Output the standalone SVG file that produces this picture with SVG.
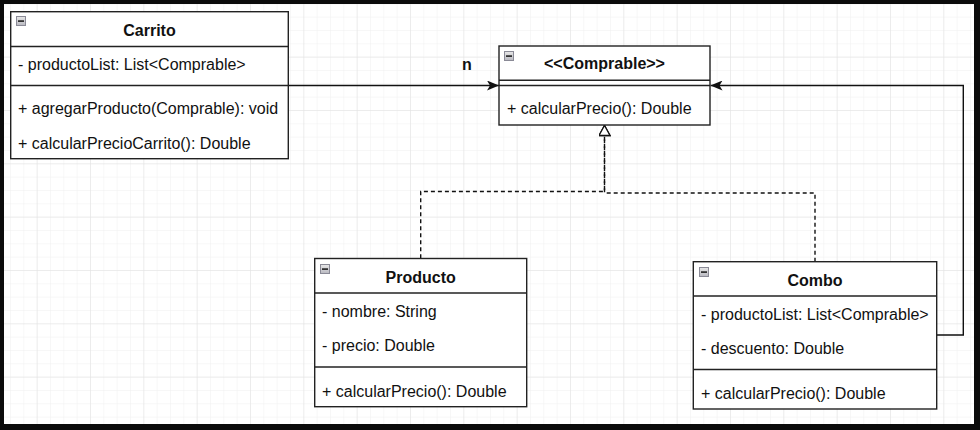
<svg xmlns="http://www.w3.org/2000/svg" width="980" height="430" viewBox="0 0 980 430">
<defs>
<pattern id="minor" x="10" y="3.33" width="13.333" height="13.333" patternUnits="userSpaceOnUse">
<path d="M0 0H13.333M0 0V13.333" fill="none" stroke="#efefef" stroke-width="1"/>
</pattern>
<pattern id="major" x="36.67" y="3.33" width="53.333" height="53.333" patternUnits="userSpaceOnUse">
<path d="M0 0H53.333M0 0V53.333" fill="none" stroke="#e2e2e2" stroke-width="1"/>
</pattern>
<linearGradient id="ig" x1="0" y1="0" x2="0" y2="1">
<stop offset="0" stop-color="#e8e8e8"/><stop offset="1" stop-color="#b8b8c0"/>
</linearGradient>
<marker id="classic" viewBox="0 0 12 10" refX="12" refY="5" markerWidth="12" markerHeight="10" markerUnits="userSpaceOnUse" orient="auto">
<path d="M0 0L12 5L0 10L3 5Z" fill="#111"/>
</marker>
<marker id="tri" viewBox="0 0 12 12" refX="11" refY="6" markerWidth="12" markerHeight="12" markerUnits="userSpaceOnUse" orient="auto">
<path d="M1 0.5L11 6L1 11.5Z" fill="#fff" stroke="#111" stroke-width="1.3"/>
</marker>
<g id="icon"><rect x="0.5" y="0.5" width="9" height="9" fill="url(#ig)" stroke="#8a8a96" stroke-width="1"/><rect x="2" y="4.3" width="6" height="1.6" fill="#222"/></g>
</defs>
<style>
.box{fill:#fff;stroke:#222;stroke-width:1.4}
.ln{stroke:#222;stroke-width:1.4}
.t{font-family:"Liberation Sans",Arial,sans-serif;font-size:16px;fill:#111}
.h{font-family:"Liberation Sans",Arial,sans-serif;font-size:16px;font-weight:bold;fill:#111;text-anchor:middle}
.c{fill:none;stroke:#111;stroke-width:1.4}
.d{fill:none;stroke:#111;stroke-width:1.4;stroke-dasharray:4 3}
</style>
<rect width="980" height="430" fill="#0b0b0b"/>
<rect x="4" y="4" width="970" height="420" fill="#fff"/>
<rect x="4" y="4" width="970" height="420" fill="url(#minor)"/>
<rect x="4" y="4" width="970" height="420" fill="url(#major)"/>

<g id="connectors">
<path class="c" d="M288.5 85.5H499" marker-end="url(#classic)"/>
<path class="c" d="M936.7 335H963.3V85.5H710.5" marker-end="url(#classic)"/>
<path class="d" d="M420.7 258.3V191.5H604.5V125.5" marker-end="url(#tri)"/>
<path class="d" d="M815 261.7V193H604.5V125.5" marker-end="url(#tri)"/>
<text class="h" x="467" y="70">n</text>
</g>

<g id="carrito">
<rect class="box" x="10.7" y="11.7" width="277.6" height="147"/>
<line class="ln" x1="10.7" y1="46.5" x2="288.3" y2="46.5"/>
<line class="ln" x1="10.7" y1="85.5" x2="288.3" y2="85.5"/>
<use href="#icon" x="16" y="16"/>
<text class="h" x="149.5" y="36">Carrito</text>
<text class="t" x="18" y="70">- productoList: List&lt;Comprable&gt;</text>
<text class="t" x="18" y="114">+ agregarProducto(Comprable): void</text>
<text class="t" x="18" y="149">+ calcularPrecioCarrito(): Double</text>
</g>

<g id="comprable">
<rect class="box" x="499" y="46" width="211" height="79"/>
<line class="ln" x1="499" y1="80.3" x2="710" y2="80.3"/>
<line class="ln" x1="499" y1="85.5" x2="710" y2="85.5"/>
<use href="#icon" x="504" y="51"/>
<text class="h" x="604.5" y="69">&lt;&lt;Comprable&gt;&gt;</text>
<text class="t" x="507" y="114">+ calcularPrecio(): Double</text>
</g>

<g id="producto">
<rect class="box" x="314.7" y="258.5" width="212" height="148.2"/>
<line class="ln" x1="314.7" y1="293" x2="526.7" y2="293"/>
<line class="ln" x1="314.7" y1="367" x2="526.7" y2="367"/>
<use href="#icon" x="320" y="264"/>
<text class="h" x="420.7" y="283">Producto</text>
<text class="t" x="322" y="317">- nombre: String</text>
<text class="t" x="322" y="351">- precio: Double</text>
<text class="t" x="322" y="396.5">+ calcularPrecio(): Double</text>
</g>

<g id="combo">
<rect class="box" x="693.3" y="261.7" width="243.4" height="147.3"/>
<line class="ln" x1="693.3" y1="296" x2="936.7" y2="296"/>
<line class="ln" x1="693.3" y1="369.5" x2="936.7" y2="369.5"/>
<use href="#icon" x="699" y="267"/>
<text class="h" x="815" y="286">Combo</text>
<text class="t" x="701" y="320">- productoList: List&lt;Comprable&gt;</text>
<text class="t" x="701" y="354">- descuento: Double</text>
<text class="t" x="701" y="399">+ calcularPrecio(): Double</text>
</g>
</svg>
